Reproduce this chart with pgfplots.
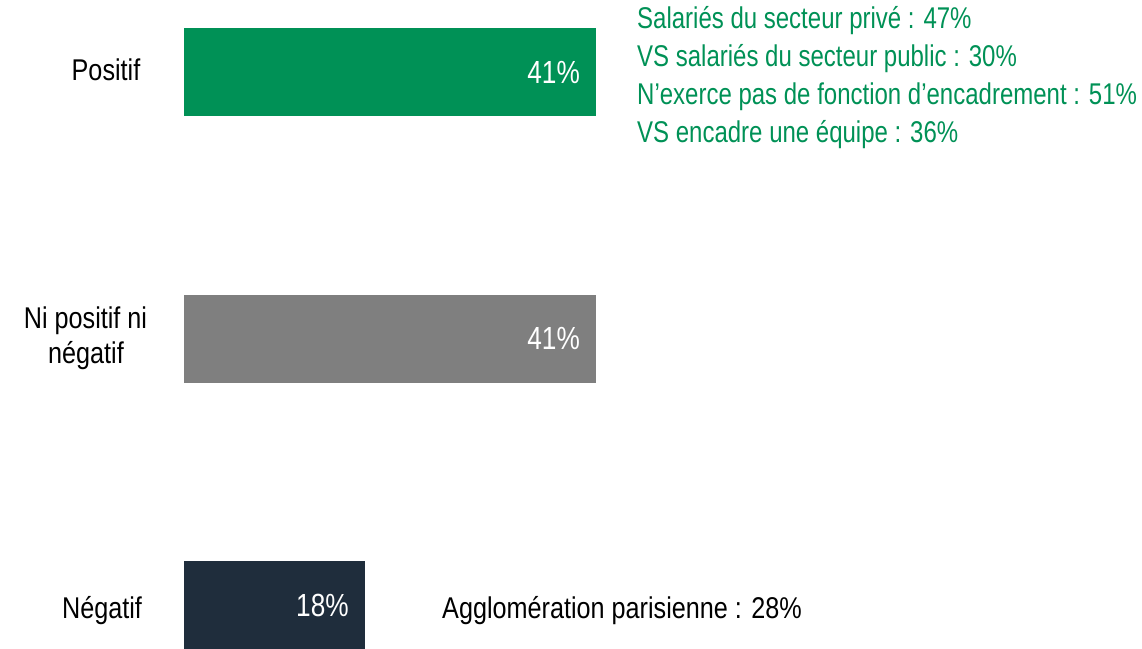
\documentclass[border=0pt]{standalone}
\usepackage{fontspec}
\setmainfont{Liberation Sans}[FakeStretch=0.84]
\newfontfamily\narrowfont{Liberation Sans}[FakeStretch=0.80]
\newfontfamily\valfont{Liberation Sans}[FakeStretch=0.82]
\usepackage{pgfplots}
\pgfplotsset{compat=1.18}
\definecolor{cgreen}{HTML}{009156}
\definecolor{cgray}{HTML}{7F7F7F}
\definecolor{cnavy}{HTML}{1F2D3C}
\begin{document}
\fontsize{30bp}{35bp}\selectfont
\begin{tikzpicture}
\path[use as bounding box] (0,0) rectangle (1142bp,649bp);
\begin{axis}[
  at={(184bp,0bp)}, anchor=south west,
  x=10.05bp, y=266.5bp,
  xmin=0, xmax=95, ymin=-0.165, ymax=2.27,
  axis lines=none, clip=false,
  xbar, bar width=88bp, bar shift=0pt,
  point meta=x,
  /pgf/number format/assume math mode=true,
  nodes near coords={\pgfmathprintnumber{\pgfplotspointmeta}\%},
  every node near coord/.append style={anchor=east, xshift=-6bp, text=white, font=\valfont\fontsize{32bp}{36bp}\selectfont},
]
\addplot[fill=cgreen, draw=none] coordinates {(41,2)};
\addplot[fill=cgray, draw=none] coordinates {(41,1)};
\addplot[fill=cnavy, draw=none] coordinates {(18,0)};
\end{axis}
\node[anchor=base, inner sep=0pt] at (106bp,568bp) {Positif};
\node[anchor=base, inner sep=0pt] at (85.5bp,320bp) {Ni positif ni};
\node[anchor=base, inner sep=0pt] at (86bp,285bp) {négatif};
\node[anchor=base, inner sep=0pt] at (102bp,31bp) {Négatif};
\begin{scope}[every node/.style={anchor=base west, text=cgreen, inner sep=0pt, font=\narrowfont\fontsize{30bp}{35bp}\selectfont}]
\node at (637bp,620bp) {Salariés du secteur privé : 47\%};
\node at (637bp,582bp) {VS salariés du secteur public : 30\%};
\node at (637bp,544bp) {N’exerce pas de fonction d’encadrement : 51\%};
\node at (637bp,506bp) {VS encadre une équipe : 36\%};
\end{scope}
\node[anchor=base west, inner sep=0pt] at (442bp,31bp) {Agglomération parisienne : 28\%};
\end{tikzpicture}
\end{document}
